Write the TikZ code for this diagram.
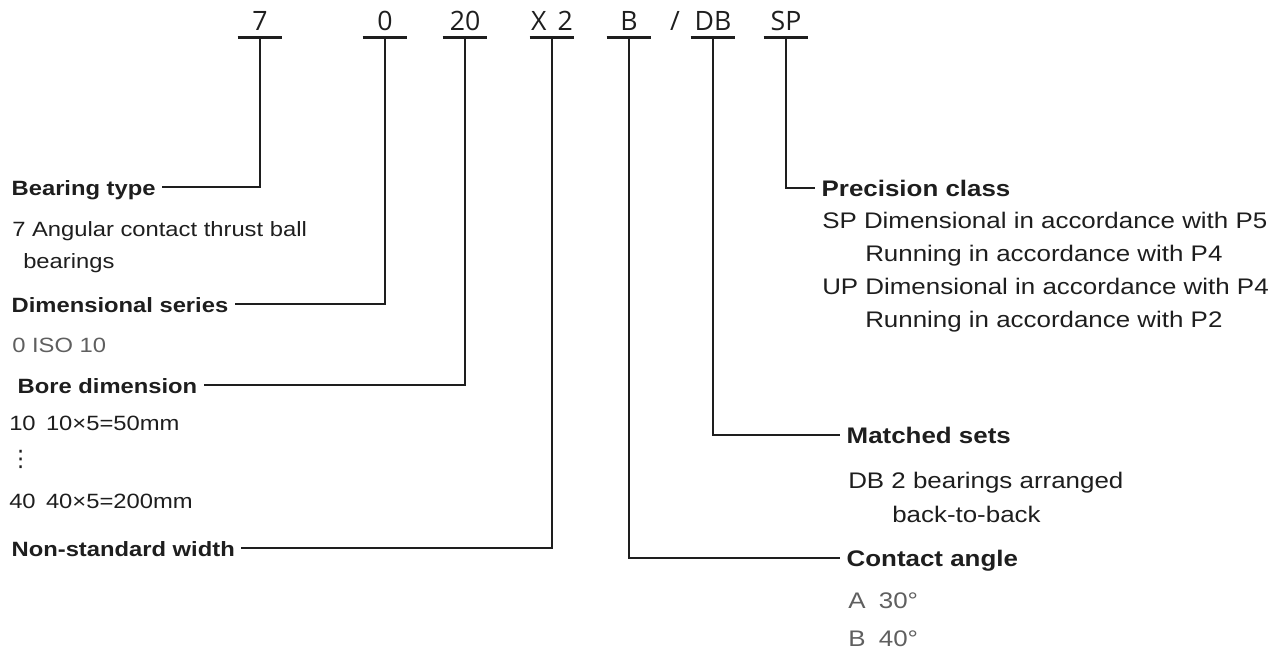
\documentclass[tikz,border=0pt]{standalone}
\usepackage{fontspec}
\setmainfont{Liberation Sans}[FakeStretch=1.15]
\newfontfamily\codefont{Open Sans}
\newfontfamily\dotfont{DejaVu Sans}
\usetikzlibrary{positioning}
\definecolor{inkblack}{RGB}{30,30,30}
\definecolor{inkgray}{RGB}{95,95,95}

\begin{document}
\begin{tikzpicture}[
    x=0.75pt, y=-0.75pt,
    font=\fontsize{15.5}{18}\selectfont, text=inkblack,
    code/.style={font=\codefont\fontsize{20}{24}\selectfont, inner sep=0pt, minimum width=33pt, text height=15pt, text depth=5.25pt, anchor=base},
    title/.style={font=\bfseries\fontsize{15.5}{18}\selectfont, inner sep=0pt, outer xsep=5pt, text height=12pt, text depth=0pt, anchor=west},
    entry/.style={inner sep=0pt, anchor=base west},
    big/.style={font=\fontsize{16.9}{20}\selectfont},
    bigtitle/.style={title, font=\bfseries\fontsize{16.9}{20}\selectfont},
    lead/.style={draw=inkblack, line width=2.2pt}
]
    \useasboundingbox (0,0) rectangle (1279,654);

    % designation code
    \foreach \name/\x/\val in {t/260/7, d/385/0, b/465/20, w/552/X~\,2, c/629/B, m/713/DB, p/786/SP} {
        \node[code] (\name) at (\x,30) {\val};
        \draw[lead] (\name.south west) -- (\name.south east);
    }
    \node[code, minimum width=0pt] (slash) at (675,30) {/};

    % left column
    \node[title] (bt) at (5,187) {Bearing type};
    \node[entry] (bt1) at (12,236) {7 Angular contact thrust ball};
    \node[entry] (bt2) at (23,268) {bearings};
    \node[title] (ds) at (5,304) {Dimensional series};
    \node[entry, text=inkgray] (ds1) at (12,352) {0 ISO 10};
    \node[title] (bd) at (11,385) {Bore dimension};
    \node[entry] (bd1) at (9,430) {10\enspace 10×5=50mm};
    \node[entry, font=\dotfont\fontsize{17}{20}\selectfont] (bd2) at (9,466) {⋮};
    \node[entry] (bd3) at (9,508) {40\enspace 40×5=200mm};
    \node[title] (nsw) at (5,548) {Non-standard width};

    % right column
    \node[bigtitle] (pc) at (815,188) {Precision class};
    \node[entry, big] (pc1) at (822,228) {SP Dimensional in accordance with P5};
    \node[entry, big] (pc2) at (865,261) {Running in accordance with P4};
    \node[entry, big] (pc3) at (822,294) {UP Dimensional in accordance with P4};
    \node[entry, big] (pc4) at (865,327) {Running in accordance with P2};
    \node[bigtitle] (ms) at (840,435) {Matched sets};
    \node[entry, big] (ms1) at (848,488) {DB 2 bearings arranged};
    \node[entry, big] (ms2) at (892,522) {back-to-back};
    \node[bigtitle] (ca) at (840,558) {Contact angle};
    \node[entry, big, text=inkgray] (ca1) at (848,608) {A\hspace{10pt}30°};
    \node[entry, big, text=inkgray] (ca2) at (848,646) {B\hspace{10pt}40°};

    % leaders
    \draw[lead] (t.south) |- (bt.east);
    \draw[lead] (d.south) |- (ds.east);
    \draw[lead] (b.south) |- (bd.east);
    \draw[lead] (w.south) |- (nsw.east);
    \draw[lead] (c.south) |- (ca.west);
    \draw[lead] (m.south) |- (ms.west);
    \draw[lead] (p.south) |- (pc.west);
\end{tikzpicture}
\end{document}
